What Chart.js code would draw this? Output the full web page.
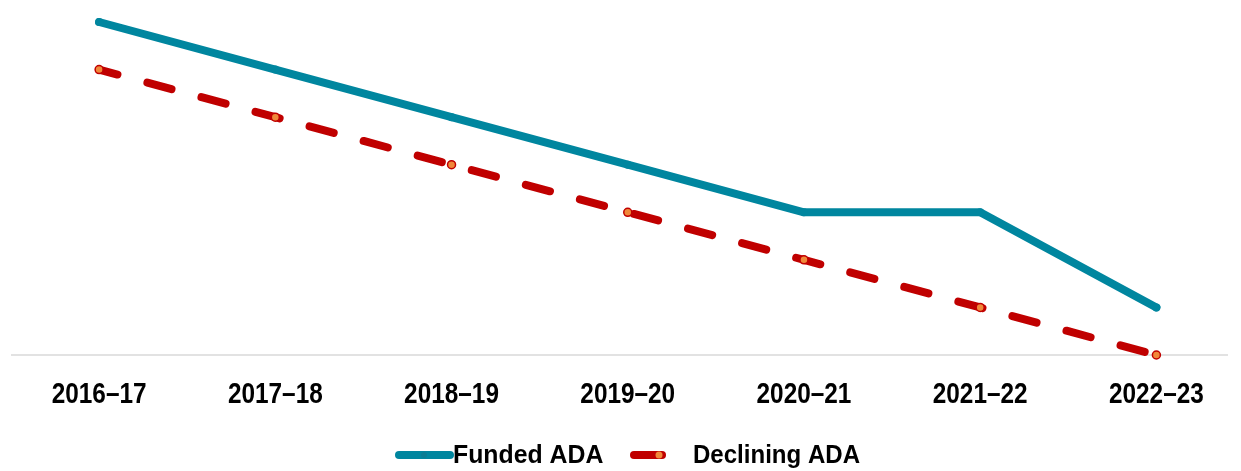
<!DOCTYPE html>
<html>
<head>
<meta charset="utf-8">
<script src="https://cdn.jsdelivr.net/npm/chart.js@4"></script>
<style>
  html, body { margin: 0; padding: 0; background: #fff; overflow: hidden; }
  #wrap { width: 1250px; height: 471px; position: relative; }
</style>
</head>
<body>
<div id="wrap"><canvas id="chart"></canvas></div>
<script>
// Chart data
const years = ['2016–17', '2017–18', '2018–19', '2019–20', '2020–21', '2021–22', '2022–23']
const fundedAda = [7, 6, 5, 4, 3, 3, 1]
const decliningAda = [6, 5, 4, 3, 2, 1, 0]

const tealColor = '#00869f'
const redColor = '#c00000'
const orangeDot = '#f0883a'
const fontFamily = "'Liberation Sans', Arial, sans-serif"

// Narrow bold labels: draw the category labels and the legend with a horizontal squeeze
const narrowText = {
  id: 'narrowText',
  beforeDatasetsDraw(chart) {
    // light baseline under the plot
    const ctx = chart.ctx
    const area = chart.chartArea
    ctx.save()
    ctx.strokeStyle = '#d9d9d9'
    ctx.lineWidth = 1.5
    ctx.beginPath()
    ctx.moveTo(area.left, area.bottom)
    ctx.lineTo(1228, area.bottom)
    ctx.stroke()
    ctx.restore()
  },
  afterDraw(chart) {
    const ctx = chart.ctx
    const xScale = chart.scales.x
    const area = chart.chartArea

    // category labels
    ctx.save()
    ctx.fillStyle = '#000'
    ctx.font = 'bold 29px ' + fontFamily
    ctx.textAlign = 'center'
    ctx.textBaseline = 'middle'
    years.forEach((label, i) => {
      const x = xScale.getPixelForValue(i)
      ctx.save()
      ctx.translate(x, area.bottom + 40)
      ctx.scale(0.84, 1)
      ctx.fillText(label, 0, 0)
      ctx.restore()
    })
    ctx.restore()

    // legend
    const legendY = area.bottom + 100
    const lineX = [[399, 450], [634, 662]]
    const textX = [453, 693]
    const squeeze = [0.955, 0.925]
    chart.data.datasets.forEach((ds, i) => {
      ctx.save()
      ctx.strokeStyle = ds.borderColor
      ctx.lineWidth = 8
      ctx.lineCap = 'round'
      ctx.beginPath()
      ctx.moveTo(lineX[i][0], legendY)
      ctx.lineTo(lineX[i][1], legendY)
      ctx.stroke()
      ctx.beginPath()
      if (i === 0) {
        ctx.fillStyle = '#0a7d94'
        ctx.arc(424, legendY, 3, 0, Math.PI * 2)
      } else {
        ctx.fillStyle = orangeDot
        ctx.arc(659, legendY, 3.5, 0, Math.PI * 2)
      }
      ctx.fill()
      ctx.fillStyle = '#000'
      ctx.font = 'bold 26px ' + fontFamily
      ctx.textAlign = 'left'
      ctx.textBaseline = 'middle'
      ctx.translate(textX[i], legendY + 1)
      ctx.scale(squeeze[i], 1)
      ctx.fillText(ds.label, 0, 0)
      ctx.restore()
    })
  }
}

new Chart(document.getElementById('chart').getContext('2d'), {
  type: 'line',
  data: {
    labels: years,
    datasets: [
      {
        label: 'Funded ADA',
        data: fundedAda,
        borderColor: tealColor,
        backgroundColor: tealColor,
        borderWidth: 8,
        borderCapStyle: 'round',
        borderJoinStyle: 'round',
        pointRadius: 4,
        pointBorderWidth: 0,
        pointBackgroundColor: tealColor,
        tension: 0,
        clip: false
      },
      {
        label: 'Declining ADA',
        data: decliningAda,
        borderColor: redColor,
        backgroundColor: redColor,
        borderWidth: 8,
        borderDash: [25, 31],
        borderDashOffset: 6,
        borderCapStyle: 'round',
        pointRadius: 4,
        pointBorderWidth: 1.5,
        pointBorderColor: redColor,
        pointBackgroundColor: orangeDot,
        tension: 0,
        clip: false
      }
    ]
  },
  options: {
    responsive: true,
    maintainAspectRatio: false,
    animation: false,
    layout: { padding: { top: 22, left: 11, right: 0, bottom: 116 } },
    plugins: {
      tooltip: { enabled: false },
      legend: { display: false }
    },
    scales: {
      x: {
        offset: true,
        grid: { display: false, drawTicks: false },
        border: { display: false },
        ticks: { display: false }
      },
      y: {
        min: 0,
        max: 7,
        display: false
      }
    }
  },
  plugins: [narrowText]
})
</script>
</body>
</html>
